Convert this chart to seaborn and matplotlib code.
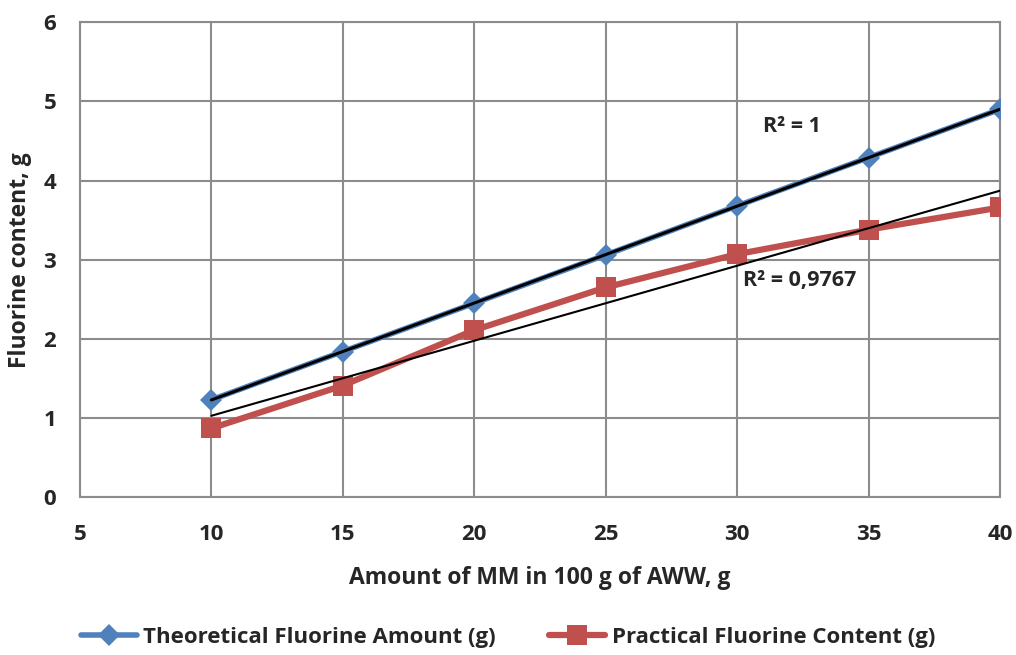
import numpy as np
import pandas as pd
import matplotlib
matplotlib.use("Agg")
import matplotlib.pyplot as plt
import seaborn as sns

# Data
mm_amount = [10, 15, 20, 25, 30, 35, 40]
theoretical = [1.23, 1.84, 2.45, 3.06, 3.68, 4.29, 4.90]
practical = [0.87, 1.41, 2.11, 2.65, 3.07, 3.38, 3.66]

THEO_LABEL = "Theoretical Fluorine Amount (g)"
PRAC_LABEL = "Practical Fluorine Content (g)"

BLUE = "#4F81BD"
RED = "#C0504D"
GRID = "#8C8C8C"

sns.set_style("white")
plt.rcParams['font.family'] = ['Open Sans', 'DejaVu Sans']
plt.rcParams['font.weight'] = 'bold'

df = pd.DataFrame({"x": mm_amount, THEO_LABEL: theoretical, PRAC_LABEL: practical})

fig = plt.figure(figsize=(10.16, 6.55), dpi=100)
ax = fig.add_axes([0.0787, 0.241, 0.9055, 0.725])

sns.lineplot(data=df, x="x", y=THEO_LABEL, ax=ax, color=BLUE, lw=4,
             marker="D", markersize=11, markeredgewidth=0, label=THEO_LABEL, zorder=3)
sns.lineplot(data=df, x="x", y=PRAC_LABEL, ax=ax, color=RED, lw=4.5,
             marker="s", markersize=14, markeredgewidth=0, label=PRAC_LABEL, zorder=3)

# linear trend lines
xs = np.array(mm_amount, dtype=float)
for ys, lw in [(theoretical, 2.2), (practical, 1.5)]:
    k, b = np.polyfit(xs, ys, 1)
    ax.plot([xs[0], xs[-1]], [k * xs[0] + b, k * xs[-1] + b], color="black", lw=lw, zorder=4)

ax.text(30.98, 4.68, "R² = 1", fontsize=15.5, fontweight="bold", va="center")
ax.text(30.22, 2.74, "R² = 0,9767", fontsize=15.5, fontweight="bold", va="center")

ax.set_xlim(5, 40)
ax.set_ylim(0, 6)
ax.set_xticks(range(5, 41, 5))
ax.set_yticks(range(0, 7))
ax.grid(True, color=GRID, lw=1.5)
for s in ax.spines.values():
    s.set_color(GRID)
    s.set_linewidth(1.5)
ax.tick_params(axis="both", labelsize=16, length=0)
ax.tick_params(axis="x", pad=19.5)
ax.tick_params(axis="y", pad=17)
for lbl in ax.get_xticklabels() + ax.get_yticklabels():
    lbl.set_fontweight("bold")

ax.set_xlabel("Amount of MM in 100 g of AWW, g", fontsize=16.5, fontweight="bold", labelpad=15)
ax.set_ylabel("Fluorine content, g", fontsize=16.5, fontweight="bold", labelpad=8.5)

# legend centred on the figure, not the axes
handles, labels = ax.get_legend_handles_labels()
ax.get_legend().remove()
fig.legend(handles, labels, loc="center", bbox_to_anchor=(0.5, 0.027),
           ncol=2, frameon=False, fontsize=16, handlelength=2.5, handletextpad=0.3,
           columnspacing=2.4, borderaxespad=0)

fig.savefig("out.png", dpi=100)
